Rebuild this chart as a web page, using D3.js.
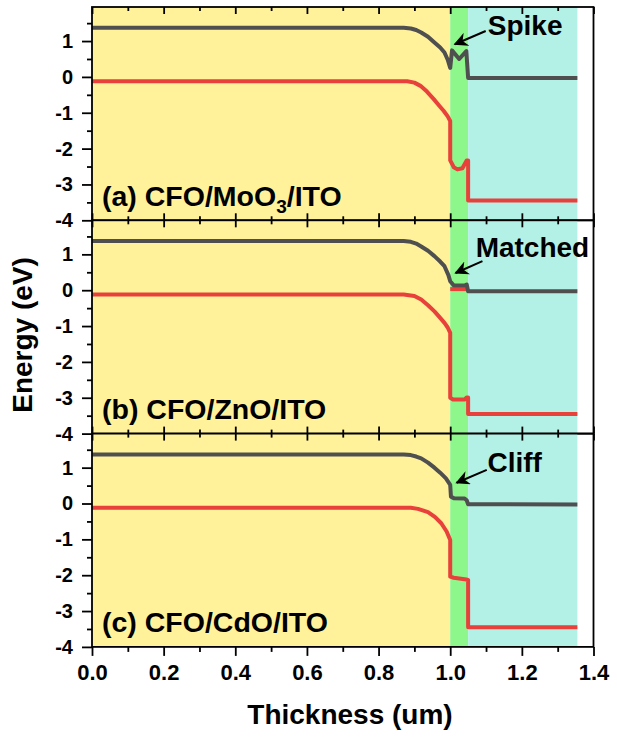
<!DOCTYPE html>
<html>
<head>
<meta charset="utf-8">
<script src="https://cdn.jsdelivr.net/npm/d3@7"></script>
<style>
  body { margin: 0; background: #fff; }
  text { font-family: "Liberation Sans", Arial, sans-serif; font-weight: bold; }
</style>
</head>
<body>
<div id="chart"></div>
<script>
// layers (um)
var layerStart = [0, 1.0, 1.05];
var layerEnd = [1.0, 1.05, 1.355];
var layerColor = ["#fff29b", "#8ef78c", "#b3f0e6"];

// band edges: [thickness, energy]
var cbA = [[0,1.37],[0.87,1.37],[0.89,1.35],[0.905,1.31],[0.919,1.24],[0.938,1.12],[0.956,0.96],[0.972,0.82],[0.984,0.68],[0.993,0.48],[1.0,0.25],[1.005,0.74],[1.025,0.5],[1.045,0.72],[1.05,-0.03],[1.355,-0.03]];
var vbA = [[0,-0.12],[0.88,-0.12],[0.9,-0.16],[0.917,-0.25],[0.935,-0.41],[0.954,-0.62],[0.97,-0.81],[0.982,-0.95],[0.993,-1.1],[1.0,-1.23],[1.0,-2.33],[1.01,-2.52],[1.02,-2.58],[1.034,-2.55],[1.046,-2.33],[1.05,-2.33],[1.05,-3.45],[1.355,-3.45]];

var cbB = [[0,1.37],[0.87,1.37],[0.89,1.35],[0.905,1.3],[0.919,1.22],[0.938,1.1],[0.956,0.95],[0.972,0.8],[0.984,0.67],[0.995,0.42],[1.0,0.25],[1.01,0.13],[1.04,0.13],[1.046,0.16],[1.05,-0.03],[1.355,-0.03]];
var vbB = [[0,-0.12],[0.87,-0.12],[0.9,-0.16],[0.919,-0.26],[0.938,-0.42],[0.956,-0.59],[0.972,-0.77],[0.984,-0.91],[0.993,-1.04],[1.0,-1.19],[1.0,-3.0],[1.008,-3.05],[1.04,-3.05],[1.046,-2.99],[1.05,-2.99],[1.05,-3.45],[1.355,-3.45]];
var vbStubB = [[1.0,0.03],[1.05,0.03]];

var cbC = [[0,1.37],[0.87,1.37],[0.89,1.35],[0.905,1.31],[0.919,1.26],[0.938,1.14],[0.956,1.0],[0.972,0.86],[0.988,0.7],[1.0,0.52],[1.002,0.19],[1.01,0.15],[1.04,0.14],[1.046,0.09],[1.05,-0.02],[1.355,-0.03]];
var vbC = [[0,-0.12],[0.89,-0.12],[0.91,-0.15],[0.938,-0.24],[0.958,-0.38],[0.975,-0.55],[0.99,-0.78],[1.0,-1.02],[1.0,-2.04],[1.01,-2.07],[1.045,-2.12],[1.05,-2.13],[1.05,-3.45],[1.355,-3.45]];

var panelLabel = ["(a) CFO/MoO", "(b) CFO/ZnO/ITO", "(c) CFO/CdO/ITO"];
var noteText = ["Spike", "Matched", "Cliff"];
// arrow tail / tip and text anchor in data units
var noteTail = [[1.099,1.28],[1.09,0.81],[1.102,0.94]];
var noteTip = [[1.013,0.91],[1.015,0.48],[1.018,0.58]];
var noteAt = [[1.105,1.16],[1.071,0.93],[1.104,0.89]];

var xTicks = [0, 0.2, 0.4, 0.6, 0.8, 1.0, 1.2, 1.4];
var yTicks = [1, 0, -1, -2, -3, -4];
var yMinor = [1.5, 0.5, -0.5, -1.5, -2.5, -3.5];

var panels = [
  {cb: cbA, vb: vbA, extra: []},
  {cb: cbB, vb: vbB, extra: [vbStubB]},
  {cb: cbC, vb: vbC, extra: []}
];

var W = 617, H = 739;
var left = 92, right = 593.5, topY = 7, ph = 213.3;
var red = "#e8403a", gray = "#4f4f4f";

var svg = d3.select("#chart").append("svg").attr("width", W).attr("height", H);

svg.append("defs").append("marker").attr("id", "arrow")
    .attr("viewBox", "0 0 10 10").attr("refX", 9).attr("refY", 5)
    .attr("markerWidth", 14).attr("markerHeight", 14)
    .attr("markerUnits", "userSpaceOnUse")
    .attr("orient", "auto")
    .append("path").attr("d", "M0,0 L10,5 L0,10 L3,5 Z").attr("fill", "#000");

var xScale = d3.scaleLinear().domain([0, 1.4]).range([left, right]);

var line = d3.line()
    .x(function(d) { return xScale(d[0]); })
    .curve(d3.curveLinear);

panels.forEach(function(p, i) {
    var y0 = topY + i * ph;
    var yScale = d3.scaleLinear().domain([-4, 1.95]).range([y0 + ph, y0]);
    line.y(function(d) { return yScale(d[1]); });
    var g = svg.append("g").attr("class", "panel");

    // layer backgrounds
    layerStart.forEach(function(s, k) {
        g.append("rect")
            .attr("x", xScale(s)).attr("y", y0)
            .attr("width", xScale(layerEnd[k]) - xScale(s))
            .attr("height", ph)
            .attr("fill", layerColor[k]);
    });

    // curves
    p.extra.forEach(function(e) {
        g.append("path").datum(e).attr("d", line)
            .attr("fill", "none").attr("stroke", red).attr("stroke-width", 4);
    });
    g.append("path").datum(p.cb).attr("d", line)
        .attr("fill", "none").attr("stroke", gray).attr("stroke-width", 4)
        .attr("stroke-linejoin", "round");
    g.append("path").datum(p.vb).attr("d", line)
        .attr("fill", "none").attr("stroke", red).attr("stroke-width", 4)
        .attr("stroke-linejoin", "round");

    // frame
    g.append("rect").attr("x", left).attr("y", y0)
        .attr("width", right - left).attr("height", ph)
        .attr("fill", "none").attr("stroke", "#000").attr("stroke-width", 1.8);

    // y axis
    g.append("g").attr("class", "ylab").attr("transform", "translate(" + left + ",0)")
        .call(d3.axisLeft(yScale).tickValues(yTicks).tickSize(10).tickPadding(9)
            .tickFormat(function(d) { return String(d); }));
    g.append("g").attr("transform", "translate(" + left + ",0)")
        .call(d3.axisLeft(yScale).tickValues(yMinor).tickSize(5).tickFormat(""));

    // x ticks top and bottom (inside), last panel bottom outward
    var minor = d3.range(0.1, 1.4, 0.2);
    g.append("g").attr("transform", "translate(0," + y0 + ")")
        .call(d3.axisBottom(xScale).tickValues(xTicks).tickSize(7).tickFormat(""));
    g.append("g").attr("transform", "translate(0," + y0 + ")")
        .call(d3.axisBottom(xScale).tickValues(minor).tickSize(4).tickFormat(""));
    if (i < 2) {
        g.append("g").attr("transform", "translate(0," + (y0 + ph) + ")")
            .call(d3.axisTop(xScale).tickValues(xTicks).tickSize(7).tickFormat(""));
        g.append("g").attr("transform", "translate(0," + (y0 + ph) + ")")
            .call(d3.axisTop(xScale).tickValues(minor).tickSize(4).tickFormat(""));
    } else {
        g.append("g").attr("class", "xlab").attr("transform", "translate(0," + (y0 + ph) + ")")
            .call(d3.axisBottom(xScale).tickValues(xTicks).tickSize(9).tickPadding(7).tickFormat(d3.format(".1f")));
        g.append("g").attr("transform", "translate(0," + (y0 + ph) + ")")
            .call(d3.axisBottom(xScale).tickValues(minor).tickSize(5).tickFormat(""));
    }
    g.selectAll(".domain").remove();
    g.selectAll(".tick line").attr("stroke", "#000").attr("stroke-width", 1.8);
    g.selectAll(".tick text").attr("fill", "#000")
        .style("font-family", "'Liberation Sans', Arial, sans-serif").style("font-weight", "bold");
    g.selectAll(".ylab .tick text").attr("font-size", 20);
    g.selectAll(".xlab .tick text").attr("font-size", 22).attr("dy", "0.8em");

    // panel label
    var lab = g.append("text").attr("x", 102).attr("y", yScale(-3.45) + 5)
        .attr("font-size", 28.5).attr("fill", "#000").text(panelLabel[i]);
    if (i === 0) {
        lab.append("tspan").attr("font-size", 19).attr("dy", 7).text("3");
        lab.append("tspan").attr("dy", -7).text("/ITO");
    }

    // annotation
    g.append("line")
        .attr("x1", xScale(noteTail[i][0])).attr("y1", yScale(noteTail[i][1]))
        .attr("x2", xScale(noteTip[i][0])).attr("y2", yScale(noteTip[i][1]))
        .attr("stroke", "#000").attr("stroke-width", 2)
        .attr("marker-end", "url(#arrow)");
    g.append("text").attr("x", xScale(noteAt[i][0])).attr("y", yScale(noteAt[i][1]))
        .attr("font-size", 28).attr("fill", "#000").text(noteText[i]);
});

// axis titles
svg.append("text").attr("text-anchor", "middle")
    .attr("transform", "translate(32,335) rotate(-90)")
    .attr("font-size", 28).attr("fill", "#000").text("Energy (eV)");
svg.append("text").attr("text-anchor", "middle")
    .attr("x", 350).attr("y", 724)
    .attr("font-size", 28).attr("fill", "#000").text("Thickness (um)");
</script>
</body>
</html>
